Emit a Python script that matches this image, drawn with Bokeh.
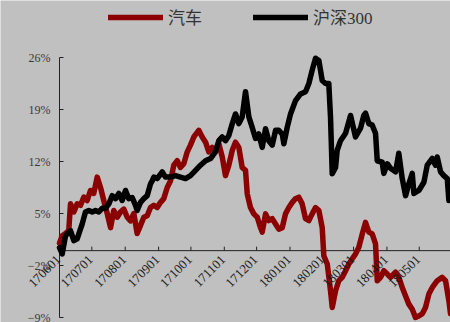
import pandas as pd
from math import pi

from bokeh.plotting import figure
from bokeh.models import (Range1d, Legend, LegendItem, ColumnDataSource, LabelSet)
from bokeh.embed import file_html
from bokeh.resources import INLINE

# ---- data: cumulative return (%) by day since 2017-06-01 ----
auto_day = [0, 2.5, 5.6, 8.6, 10.2, 13.3, 16.4, 19.5, 22.6, 25.7, 28.8, 31.8, 35.0, 38.1,
            41.1, 44.3, 47.4, 50.4, 53.6, 56.6, 59.7, 62.9, 65.9, 69.0, 72.1, 75.2, 78.3,
            81.4, 84.5, 87.6, 90.7, 93.8, 96.8, 100.0, 103.1, 106.1, 109.3, 112.3, 115.4,
            118.6, 121.6, 124.7, 129.3, 132.5, 135.6, 138.6, 141.8, 144.8, 147.9, 151.1,
            154.1, 157.2, 160.4, 163.4, 166.5, 169.6, 172.7, 174.3, 177.3, 180.4, 183.6,
            186.6, 188.2, 191.3, 194.3, 197.5, 200.6, 203.6, 206.8, 209.8, 212.9, 216.1,
            219.1, 222.2, 225.3, 228.4, 231.5, 234.6, 237.7, 240.8, 243.9, 245.4, 248.6,
            251.6, 253.2, 256.3, 259.3, 262.5, 265.6, 268.6, 271.8, 274.8, 277.9, 281.1,
            284.1, 287.2, 290.3, 293.4, 295.0, 298.1, 301.1, 304.3, 307.3, 312.0, 315.0,
            318.2, 321.3, 324.3, 327.5, 330.5, 333.6, 336.8, 339.8, 342.9, 346.1, 350.7,
            355.3, 358.4, 361.5, 363.0]
auto_ret = [1.0, 2.0, 2.3, 2.7, 6.3, 5.2, 6.3, 6.1, 7.2, 6.75, 8.1, 7.7, 9.9, 8.5,
            6.75, 5.0, 3.1, 5.4, 4.5, 5.2, 5.6, 4.5, 4.0, 5.0, 2.3, 3.4, 4.5,
            4.7, 5.8, 6.1, 5.8, 6.5, 7.0, 8.5, 9.4, 11.5, 12.1, 11.2, 11.7,
            13.3, 14.2, 15.3, 16.2, 15.3, 14.6, 13.3, 13.9, 13.5, 14.4, 12.6,
            10.1, 11.5, 13.5, 14.6, 13.9, 11.2, 10.8, 7.65, 5.8, 4.95, 4.5,
            3.1, 2.5, 4.95, 4.05, 4.3, 3.6, 2.9, 3.1, 4.95, 5.8, 6.5,
            7.0, 7.2, 6.3, 4.3, 4.05, 4.95, 5.8, 5.4, 3.1, -0.7, -1.8,
            -5.4, -7.65, -5.4, -4.05, -3.6, -2.7, -1.8, -1.1, -0.45, 0.45, 2.25,
            3.8, 2.5, 2.25, 0.9, -4.05, -3.6, -2.7, -3.15, -3.6, -2.9, -3.6,
            -4.95, -6.1, -7.2, -7.9, -9.0, -8.8, -8.5, -7.65, -5.85, -4.95, -4.05,
            -3.6, -4.05, -6.75, -8.5]

hs300_day = [0, 2.5, 5.6, 10.2, 13.3, 16.4, 21.1, 24.1, 27.2, 30.4, 33.4, 36.5, 39.6,
             42.7, 45.8, 48.9, 52.0, 55.1, 58.2, 61.3, 64.3, 67.5, 70.6, 72.1, 75.2,
             78.3, 81.4, 84.5, 86.1, 87.6, 90.7, 95.4, 98.4, 103.1, 107.7, 112.3, 117.0,
             121.6, 126.3, 130.9, 135.6, 140.2, 144.8, 147.9, 151.1, 154.1, 157.2, 160.4,
             163.4, 166.5, 169.6, 172.7, 175.8, 178.9, 182.0, 185.0, 188.2, 191.3, 194.3,
             197.5, 200.6, 203.6, 206.8, 208.3, 211.4, 214.5, 219.1, 223.8, 228.4, 231.5,
             234.6, 237.7, 240.8, 243.9, 247.0, 250.0, 251.6, 253.2, 256.3, 257.8, 260.9,
             265.6, 270.2, 274.8, 279.5, 282.5, 284.1, 287.2, 290.3, 293.4, 295.0, 299.6,
             301.1, 304.3, 307.3, 312.0, 315.0, 318.2, 321.3, 324.3, 327.5, 329.0, 333.6,
             338.3, 341.4, 346.1, 349.1, 350.7, 353.8, 356.8, 360.0, 361.5]
hs300_ret = [0.4, -0.45, 2.0, 2.7, 1.35, 1.6, 3.6, 5.2, 5.4, 5.2, 5.4, 5.2, 5.7,
             5.7, 6.3, 7.4, 7.0, 7.7, 6.75, 8.1, 7.0, 7.15, 6.1, 5.4, 6.5,
             7.0, 7.4, 9.0, 9.4, 9.9, 9.7, 10.6, 9.9, 9.9, 10.1, 9.9, 9.7,
             10.1, 10.8, 11.5, 12.1, 12.4, 13.3, 14.8, 15.3, 14.8, 15.5, 17.1,
             18.4, 17.1, 18.0, 21.4, 18.0, 16.6, 15.1, 15.7, 13.9, 16.4, 14.8,
             14.2, 16.2, 16.2, 15.7, 14.4, 16.6, 18.4, 20.2, 21.1, 21.4, 22.5,
             24.3, 25.9, 25.6, 22.9, 22.5, 22.5, 18.0, 10.35, 11.2, 13.5, 14.8,
             15.8, 18.2, 15.3, 16.5, 18.2, 18.5, 17.1, 16.9, 15.8, 12.1, 11.9,
             10.4, 11.7, 11.1, 10.6, 13.1, 9.7, 7.4, 9.0, 10.4, 7.7, 8.1,
             9.2, 11.5, 12.4, 11.5, 12.6, 10.6, 10.1, 9.7, 6.75]

month_labels = ["170601", "170701", "170801", "170901", "171001", "171101",
                "171201", "180101", "180201", "180301", "180401", "180501"]
y_ticks = [-9, -2, 5, 12, 19, 26]
y_labels = ["\u22129%", "\u22122%", "5%", "12%", "19%", "26%"]

# ---- derived tick positions ----
start = pd.Timestamp("2017-06-01")
month_days = [(pd.to_datetime("20" + s, format="%Y%m%d") - start).days for s in month_labels]

BG = "#c0c0c0"
RED = "#8b0000"
AXIS = "#222222"

W, H = 450, 322
PLOT_L, PLOT_T, PLOT_B = 59, 57, 317          # plotting box in pixels
X_END = 363                                   # last day shown at the right edge
px_per_day = (W - PLOT_L) / X_END
px_per_pct = (PLOT_B - PLOT_T) / (y_ticks[-1] - y_ticks[0])

# the frame spans the whole canvas; axes are drawn by hand
p = figure(width=W, height=H, output_backend="svg", toolbar_location=None,
           x_range=Range1d(-PLOT_L / px_per_day, X_END),
           y_range=Range1d(y_ticks[0] - (H - PLOT_B) / px_per_pct,
                           y_ticks[-1] + PLOT_T / px_per_pct),
           x_axis_location=None, y_axis_location=None,
           min_border=0, background_fill_color=BG, border_fill_color=BG,
           outline_line_color=None)
p.grid.visible = False

# y axis: line, inward ticks, labels
p.segment(x0=[0], y0=[y_ticks[0]], x1=[0], y1=[y_ticks[-1]], line_color=AXIS, line_width=1)
p.ray(x=[0] * len(y_ticks), y=y_ticks, length=4, length_units="screen", angle=0,
      line_color=AXIS, line_width=1)
p.text(x=[0] * len(y_ticks), y=y_ticks, text=y_labels, x_offset=-9,
       text_align="right", text_baseline="middle", text_font={"value": "Liberation Serif"},
       text_font_size="12px", text_color="#3a3a3a")

# horizontal axis at the zero line with upward ticks
p.segment(x0=[0], y0=[0], x1=[X_END], y1=[0], line_color=AXIS, line_width=1)
p.ray(x=month_days, y=[0] * len(month_days), length=4, length_units="screen",
      angle=pi / 2, line_color=AXIS, line_width=1)

r_auto = p.line(auto_day, auto_ret, line_color=RED, line_width=5.5,
                line_join="round", line_cap="round")
r_hs = p.line(hs300_day, hs300_ret, line_color="black", line_width=5.5,
              line_join="round", line_cap="round")

# rotated month labels under the zero line
lab_src = ColumnDataSource(dict(x=month_days, y=[0] * len(month_days), text=month_labels))
p.add_layout(LabelSet(x="x", y="y", text="text", source=lab_src, angle=pi / 4,
                      text_align="right", text_baseline="middle",
                      x_offset=-1, y_offset=-7, text_font="Liberation Sans",
                      text_font_size="13px", text_color="#1a1a1a", level="overlay"))

legend = Legend(items=[LegendItem(label="汽车", renderers=[r_auto]),
                       LegendItem(label="沪深300", renderers=[r_hs])],
                orientation="horizontal", location=(108, H - 29),
                glyph_width=55, glyph_height=20, label_standoff=5, spacing=51,
                padding=0, margin=0, label_text_font="Liberation Serif, Noto Sans CJK SC",
                label_text_font_size="17px", label_text_color="#333333",
                label_height=20, background_fill_alpha=0, border_line_alpha=0)
p.add_layout(legend, "center")

open("out.html", "w").write(file_html(p, INLINE))
